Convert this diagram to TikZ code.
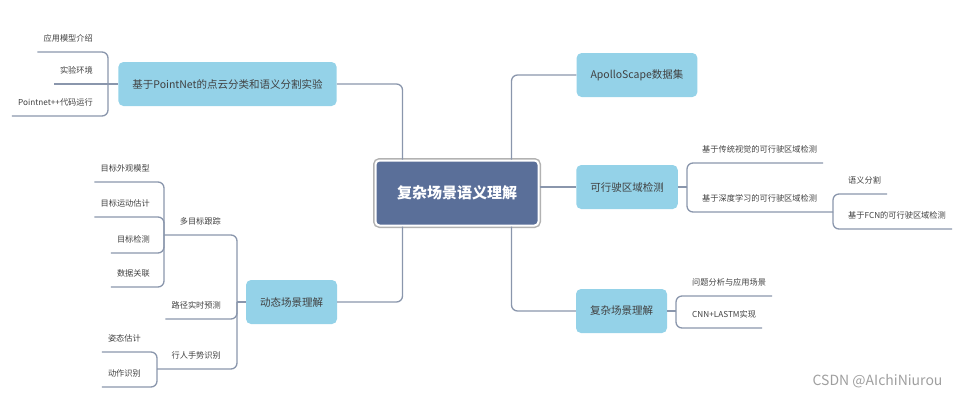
\documentclass[tikz,border=0pt]{standalone}
\usepackage{fontspec}
\setmainfont{Noto Sans CJK SC}
\usetikzlibrary{positioning}
\definecolor{topicblue}{RGB}{148,210,232}
\definecolor{rootblue}{RGB}{90,111,153}
\definecolor{linkgray}{RGB}{138,150,172}
\definecolor{textgray}{RGB}{64,64,64}

\begin{document}
\begin{tikzpicture}[x=1pt,y=-1pt,every node/.style={text=textgray},
  root/.style={fill=rootblue,draw=white,line width=2pt,rounded corners=4pt,
    preaction={draw=gray!60,line width=5pt},minimum width=163pt,minimum height=65pt,
    text=white,font=\fontsize{15}{18}\selectfont\bfseries},
  topic/.style={fill=topicblue,rounded corners=5pt,minimum height=44pt,inner xsep=14pt,
    font=\fontsize{10.5}{12}\selectfont},
  leaf/.style={inner xsep=6pt,inner ysep=9pt,text height=7pt,text depth=1pt,
    font=\fontsize{8.2}{10}\selectfont},
  link/.style={draw=linkgray,line width=1.3pt,rounded corners=6pt}]
\useasboundingbox (0,0) rectangle (960,400);

\node[root] (root) at (457,193) {复杂场景语义理解};
\node[topic] (pn) at (227.5,84) {基于PointNet的点云分类和语义分割实验};
\node[topic] (dyn) at (291.5,302) {动态场景理解};
\node[topic] (apollo) at (637,75) {ApolloScape数据集};
\node[topic] (ride) at (627,187) {可行驶区域检测};
\node[topic] (scene) at (621.5,311) {复杂场景理解};

\coordinate (bpn) at (108,84);
\coordinate (bdyn) at (237,302);
\coordinate (bmot) at (164,235);
\coordinate (bges) at (157,369);
\coordinate (bride) at (687,187);
\coordinate (bdl) at (833,212);
\coordinate (bsc) at (676,311);

\node[leaf,anchor=south east] (app) at (99,52) {应用模型介绍};
\node[leaf,anchor=south east] (env) at (99,84) {实验环境};
\node[leaf,anchor=south east] (run) at (99,116) {Pointnet++代码运行};
\node[leaf,anchor=south east] (mot) at (227,235) {多目标跟踪};
\node[leaf,anchor=south east] (pred) at (227,319) {路径实时预测};
\node[leaf,anchor=south east] (gest) at (227,369) {行人手势识别};
\node[leaf,anchor=south east] (look) at (156,182) {目标外观模型};
\node[leaf,anchor=south east] (motion) at (156,217) {目标运动估计};
\node[leaf,anchor=south east] (det) at (156,253) {目标检测};
\node[leaf,anchor=south east] (assoc) at (156,287) {数据关联};
\node[leaf,anchor=south east] (pose) at (147,352) {姿态估计};
\node[leaf,anchor=south east] (act) at (147,387) {动作识别};
\node[leaf,anchor=south west] (trad) at (696,163) {基于传统视觉的可行驶区域检测};
\node[leaf,anchor=south west] (deep) at (696,212) {基于深度学习的可行驶区域检测};
\node[leaf,anchor=south west] (seg) at (842,194) {语义分割};
\node[leaf,anchor=south west] (fcn) at (842,229) {基于FCN的可行驶区域检测};
\node[leaf,anchor=south west] (ana) at (686,296) {问题分析与应用场景};
\node[leaf,anchor=south west] (cnn) at (686,328) {CNN+LASTM实现};

\draw[link] ([xshift=28pt]root.north west) |- (pn.east);
\draw[link] ([xshift=28pt]root.south west) |- (dyn.east);
\draw[link] ([xshift=-28pt]root.north east) |- (apollo.west);
\draw[link] (root.east |- ride.west) -- (ride.west);
\draw[link] ([xshift=-28pt]root.south east) |- (scene.west);

\draw[link] (pn.west) -- (bpn);
\draw[link] (bpn) |- (app.south west);
\draw[link] (bpn) -- (env.south west);
\draw[link] (bpn) |- (run.south west);

\draw[link] (dyn.west) -- (bdyn);
\draw[link] (bdyn) |- (bmot);
\draw[link] (bdyn) |- (pred.south west);
\draw[link] (bdyn) |- (bges);
\draw[link] (bmot) |- (look.south west);
\draw[link] (bmot) |- (motion.south west);
\draw[link] (bmot) |- (det.south west);
\draw[link] (bmot) |- (assoc.south west);
\draw[link] (bges) |- (pose.south west);
\draw[link] (bges) |- (act.south west);

\draw[link] (ride.east) -- (bride);
\draw[link] (bride) |- (trad.south east);
\draw[link] (bride) |- (bdl);
\draw[link] (bdl) |- (seg.south east);
\draw[link] (bdl) |- (fcn.south east);

\draw[link] (scene.east) -- (bsc);
\draw[link] (bsc) |- (ana.south east);
\draw[link] (bsc) |- (cnn.south east);

\node[anchor=east,text=gray!75,font=\fontsize{14}{16}\selectfont] (mark) at (946,381) {CSDN @AIchiNiurou};
\end{tikzpicture}
\end{document}
